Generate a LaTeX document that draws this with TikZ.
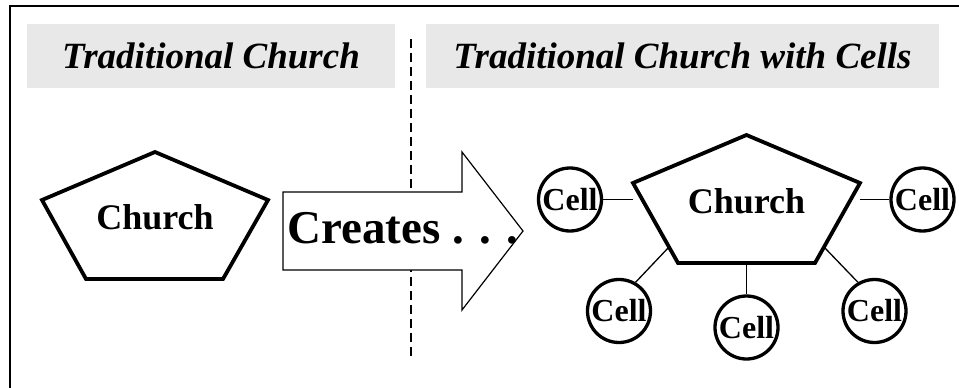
\documentclass[tikz,border=0pt]{standalone}
\usepackage{fontspec}
\setmainfont{Liberation Serif}
\usetikzlibrary{calc,positioning}
\definecolor{headgray}{HTML}{E8E8E8}
\tikzstyle{header} = [
  rectangle, fill = headgray, minimum height = 64pt, inner sep = 0pt,
  font = \fontsize{37}{41}\selectfont\bfseries\itshape
]
\tikzstyle{pentagon} = [draw, line width = 3.8pt, line join = miter]
\tikzstyle{cell} = [
  circle, draw, line width = 3.3pt, minimum size = 63pt, inner sep = 0pt,
  font = \fontsize{32}{36}\selectfont\bfseries
]
\tikzstyle{link} = [line width = 1.3pt]

\begin{document}
\begin{tikzpicture}[x=1pt, y=-1pt]
    \useasboundingbox (0,0) rectangle (959,388);
    \draw[line width = 2.2pt] (10,392) -- (10,6) -- (963,6);

    \node[header, minimum width = 368pt] (oldhead) at (211,56) {Traditional Church};
    \node[header, minimum width = 513pt] (newhead) at (682.5,56) {Traditional Church with Cells};

    \draw[line width = 1.3pt, dash pattern = on 9pt off 5pt] (411,39) -- (411,357);

    % old church
    \draw[pentagon] (155,152) -- (42,200) -- (86,279) -- (223,279) -- (268,200) -- cycle;
    \node[font = \fontsize{36}{40}\selectfont\bfseries] (church1) at (155,217) {Church};

    % the big arrow
    \draw[fill = white, line width = 1.2pt] (283,192) -- (462,192) -- (462,152)
      -- (523,231) -- (462,310) -- (462,270) -- (283,270) -- cycle;
    \node[anchor = base west, inner sep = 0pt,
      font = \fontsize{47}{52}\selectfont\bfseries] (creates) at (287,243) {Creates . . .};

    % church with cells
    \draw[pentagon] (746.5,135) coordinate (p1) -- (633,183) coordinate (p2)
      -- (678,263) coordinate (p3) -- (815,263) coordinate (p4)
      -- (860,183) coordinate (p5) -- cycle;
    \node[font = \fontsize{36}{40}\selectfont\bfseries] (church2) at (746.5,201) {Church};

    \node[cell] (cellTL) at (570,199.5) {Cell};
    \node[cell] (cellTR) at (922.5,199.5) {Cell};
    \node[cell] (cellBL) at (619,311) {Cell};
    \node[cell] (cellBC) at (746.5,327.5) {Cell};
    \node[cell] (cellBR) at (874.5,311) {Cell};

    \draw[link] (cellTL.east) -- (cellTL.east -| p2);
    \draw[link] (cellTR.west) -- (cellTR.west -| p5);
    \draw[link] (cellBC.north) -- (cellBC.north |- p3);
    \draw[link] (cellBL.60) -- ($(p3)!0.2!(p2)$);
    \draw[link] (cellBR.120) -- ($(p4)!0.2!(p5)$);
  \end{tikzpicture}
\end{document}
